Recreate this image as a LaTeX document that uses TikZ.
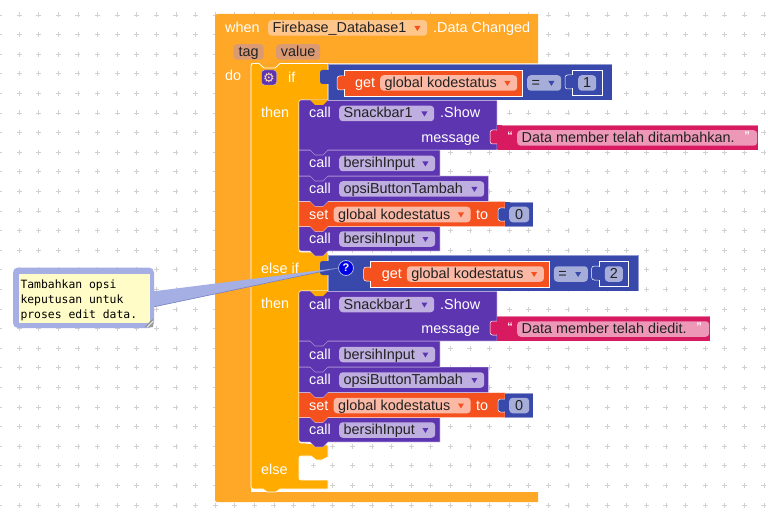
\documentclass[tikz,border=0pt]{standalone}
\usepackage{fontspec}
\setmainfont{Liberation Sans}
\newfontfamily\notefont{DejaVu Sans Mono}
\newfontfamily\symbolfont{DejaVu Sans}
\newcommand{\blockfont}{\fontsize{14.4}{16}\selectfont}
\newcommand{\notesetup}{\notefont\fontsize{11.4}{14.7}\selectfont}
\newcommand{\tabdown}{-- ++(-5,5) -- ++(-8,0) -- ++(-5,-5)}
\definecolor{whenorange}{HTML}{FFA726}
\definecolor{ifgold}{HTML}{FFAB00}
\definecolor{callpurple}{HTML}{5E35B1}
\definecolor{setred}{HTML}{F4511E}
\definecolor{mathblue}{HTML}{3949AB}
\definecolor{textpink}{HTML}{D81B60}
\definecolor{fieldink}{HTML}{222222}
\definecolor{tagbrown}{HTML}{DA9A74}
\definecolor{notefill}{HTML}{A6AFE4}
\begin{document}
\begin{tikzpicture}[
  x=1pt, y=-1pt,
  plusmark/.style={draw=black!18, line width=0.7pt},
  stmt/.style={fill=#1, draw=white, draw opacity=0.45, line width=0.6pt},
  nub/.style={fill=#1, draw=white, line width=0.5pt, rounded corners=2.5pt},
  blocklabel/.style={font=\blockfont, text=white, inner sep=0pt, text height=10.5pt, text depth=1.5pt, anchor=west},
  field/.style={rounded corners=3.5pt, inner xsep=4.5pt, inner ysep=1.75pt, text height=10.5pt, text depth=1.5pt, font=\blockfont, text=fieldink, anchor=west, align=flush left, text width=#1pt-9pt},
  quotemark/.style={font=\fontsize{11}{12}\selectfont\bfseries, text=white, inner sep=0pt},
  dropdown/.pic={\fill (-3,-2) -- (3,-2) -- (0,3) -- cycle;}
]
\useasboundingbox (0,0) rectangle (768,513);

% Workspace grid
\foreach \i in {-1,...,38}
  \foreach \j in {0,...,25}
    \draw[plusmark] ({19.1+19.6*\i},{15+19.6*\j}) +(-2.5,0) -- +(2.5,0) +(0,-2.5) -- +(0,2.5);

% Event block
\fill[whenorange] (215,19) .. controls (215,14) .. (220,14) -- (538,14) -- (538,63.5) -- (281,63.5) -- (275,69) -- (264,69) -- (258,63.5) -- (251,63.5) -- (251,492) -- (538,492) -- (538,502) -- (220,502) .. controls (215,502) .. (215,497) -- cycle;
\node[blocklabel] (when-label) at (225,28) {when};
\node[field=159, fill=orange!45!white] (firebase-field) at (268,28) {Firebase\_Database1};
\pic[color=setred] at ([xshift=-10pt]firebase-field.east) {dropdown};
\node[blocklabel] (changed-label) at (433,28) {.Data Changed};
\node[field=30, fill=tagbrown, align=center] (tag-field) at (233.5,52) {tag};
\node[field=44, fill=tagbrown, align=center] (value-field) at (276,52) {value};
\node[blocklabel] (do-label) at (225,76.5) {do};

% If block
\draw[fill=ifgold, draw=white, line width=0.8pt] (251,69) .. controls (251,63.5) .. (256,63.5) -- (259,63.5) -- (264,68) -- (275,68) -- (280,63.5) -- (328,63.5) -- (328,100) -- (304,100) .. controls (299,100) .. (299,105) -- (299,247) .. controls (299,252) .. (304,252) -- (328,252) -- (328,291) -- (304,291) .. controls (299,291) .. (299,296) -- (299,438) .. controls (299,443) .. (304,443) -- (328,445) -- (328,457) -- (322,460) -- (316,460) -- (311,456) -- (304,456) .. controls (299,456) .. (299,461) -- (299,475) .. controls (299,480) .. (304,480) -- (328,480) -- (328,489) -- (280,489) -- (276,492) -- (267,492) -- (263,489) -- (256,489) .. controls (251,489) .. (251,484) -- cycle;
\node[fill=callpurple, draw=white!70!callpurple, rounded corners=3pt, minimum size=15pt, inner sep=0pt, text=orange!30!white, font=\symbolfont\fontsize{13}{13}\selectfont] (gear-icon) at (269,77.5) {⚙};
\node[blocklabel] (if-label) at (288,78) {if};
\node[blocklabel] (then-label-a) at (261,113.5) {then};
\node[blocklabel] (elseif-label) at (261,269) {else if};
\node[blocklabel] (then-label-b) at (261,304) {then};
\node[blocklabel] (else-label) at (261,470) {else};

% Statements of both branches
\foreach \dy/\msg/\msgend in {191/Data member telah diedit./710, 0/Data member telah ditambahkan./758} {
  \begin{scope}[yshift=-\dy pt]
    \path[stmt=callpurple] (299,226.5) -- (440,226.5) -- (440,251) -- (328,251) \tabdown -- (304,251) .. controls (299,251) .. (299,246) -- cycle;
    \path[stmt=setred] (299,201.5) -- (505,201.5) -- (505,226.5) -- (328,226.5) \tabdown -- (299,226.5) -- cycle;
    \path[stmt=callpurple] (299,176) -- (488.5,176) -- (488.5,201.5) -- (328,201.5) \tabdown -- (299,201.5) -- cycle;
    \path[stmt=callpurple] (299,150) -- (440,150) -- (440,176) -- (328,176) \tabdown -- (299,176) -- cycle;
    \path[stmt=callpurple] (304,100) -- (497,100) -- (497,150) -- (328,150) \tabdown -- (299,150) -- (299,105) .. controls (299,100) .. (304,100) -- cycle;
    \fill[ifgold] (328,100) \tabdown -- cycle;
    % Call with message
    \node[blocklabel] (call-snackbar-\dy) at (309,113.5) {call};
    \node[field=95, fill=callpurple!40!white] (snackbar-field-\dy) at (339,113.5) {Snackbar1};
    \pic[color=callpurple] at ([xshift=-10pt]snackbar-field-\dy.east) {dropdown};
    \node[blocklabel] (show-label-\dy) at (440,113.5) {.Show};
    \node[blocklabel, anchor=east] (message-label-\dy) at (480,138) {message};
    \path[stmt=textpink] (497,125) rectangle (\msgend,150);
    \path[nub=textpink] (490,130) rectangle (499,144);
    \fill[textpink] (497,125.5) rectangle (502,149.5);
    \node[field=\msgend-20-497-1, fill=textpink!45!white] (message-field-\dy) at (517,138) {\msg};
    \node[quotemark] (open-quote-\dy) at (510,135.5) {“};
    \node[quotemark] (close-quote-\dy) at (\msgend-11,135.5) {”};
    % Remaining calls
    \node[blocklabel] (call-clear-\dy) at (309,163.5) {call};
    \node[field=96, fill=callpurple!40!white] (clear-field-\dy) at (339,163.5) {bersihInput};
    \pic[color=callpurple] at ([xshift=-10pt]clear-field-\dy.east) {dropdown};
    \node[blocklabel] (call-option-\dy) at (309,189) {call};
    \node[field=145, fill=callpurple!40!white] (option-field-\dy) at (339,189) {opsiButtonTambah};
    \pic[color=callpurple] at ([xshift=-10pt]option-field-\dy.east) {dropdown};
    \node[blocklabel] (set-label-\dy) at (309,214.5) {set};
    \node[field=137, fill=setred!40!white] (status-field-\dy) at (333.5,214.5) {global kodestatus};
    \pic[color=setred] at ([xshift=-10pt]status-field-\dy.east) {dropdown};
    \node[blocklabel] (to-label-\dy) at (476,214.5) {to};
    \path[stmt=mathblue] (505,202) rectangle (533,226.5);
    \path[nub=mathblue] (498,208) rectangle (507,221);
    \fill[mathblue] (505,202.5) rectangle (510,226);
    \node[field=20, fill=mathblue!45!white, align=center] (zero-field-\dy) at (509,214.5) {0};
    \node[blocklabel] (call-clear-end-\dy) at (309,239) {call};
    \node[field=96, fill=callpurple!40!white] (clear-end-field-\dy) at (339,239) {bersihInput};
    \pic[color=callpurple] at ([xshift=-10pt]clear-end-field-\dy.east) {dropdown};
  \end{scope}
}

% Conditions
\foreach \dx/\dy/\val in {0/0/1, 26.7/191/2} {
  \begin{scope}[shift={(\dx,\dy)}]
    \path[stmt=mathblue] (328-\dx,64) rectangle (612,100);
    \path[nub=mathblue, draw=none] (320-\dx,70) rectangle (331-\dx,84);
    \path[nub=setred] (337,76) rectangle (346,90);
    \path[stmt=setred, draw opacity=1] (344,70) rectangle (522.5,96);
    \fill[setred] (342,76.5) rectangle (346,89.5);
    \node[blocklabel] (get-label-\val) at (355,83) {get};
    \node[field=137, fill=setred!40!white] (get-field-\val) at (380,83) {global kodestatus};
    \pic[color=setred] at ([xshift=-10pt]get-field-\val.east) {dropdown};
    \node[field=34, fill=mathblue!45!white] (equals-field-\val) at (527,83) {=};
    \pic[color=mathblue] at ([xshift=-10pt]equals-field-\val.east) {dropdown};
    \path[nub=mathblue] (565,75) rectangle (574,89);
    \path[stmt=mathblue, draw opacity=1] (572.5,70) rectangle (602,95);
    \fill[mathblue] (571,75.5) rectangle (574,88.5);
    \node[field=18, fill=mathblue!45!white, inner xsep=0pt, text width=18pt, align=center] (number-field-\val) at (578,83) {\val};
  \end{scope}
}
\node[circle, fill=blue!90!black, draw=white!60!mathblue, line width=0.8pt, minimum size=15pt, inner sep=0pt, text=white, font=\fontsize{11}{12}\selectfont\bfseries] (help-icon) at (346,268) {?};

% Comment bubble
\node[fill=notefill, rounded corners=5pt, minimum width=141pt, minimum height=60.5pt, inner sep=0pt] (note-frame) at (83.5,297.75) {};
\fill[notefill] ([yshift=6.5pt]note-frame.east) -- (help-icon.west) -- ([yshift=-9pt]note-frame.east) -- cycle;
\draw[mathblue!70!white, line width=0.6pt] ([yshift=-9pt]note-frame.east) -- (help-icon.west);
\node[fill=yellow!22!white, inner sep=2pt, minimum width=131pt, minimum height=49pt, text width=127pt, text height=12.5pt, align=flush left, text=black, font=\notesetup] (note-body) at (84,298.5) {Tambahkan opsi\\keputusan untuk\\proses edit data.};
\coordinate (grip-corner) at ([xshift=-1pt,yshift=1pt]note-frame.south east);
\fill[black!40] (grip-corner) -- ++(-9,0) -- ++(9,-9) -- cycle;
\draw[white, line width=0.6pt] ([xshift=-6pt]grip-corner) -- ([yshift=6pt]grip-corner);

\end{tikzpicture}
\end{document}
